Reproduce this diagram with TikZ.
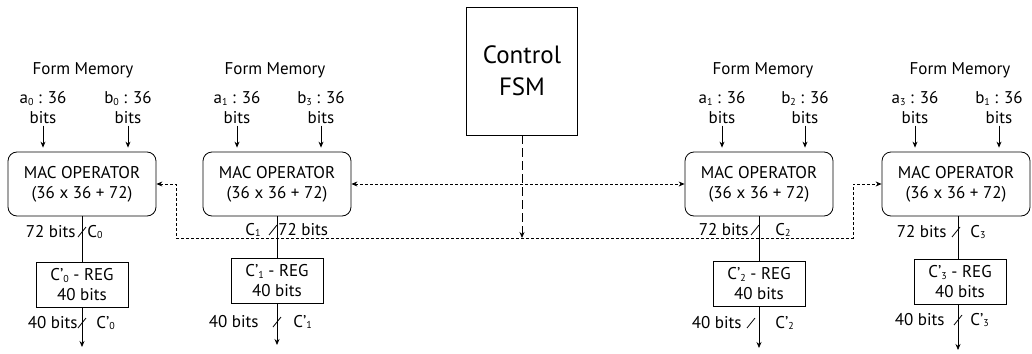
\documentclass[tikz,border=0pt]{standalone}
\usepackage{fontspec}
\setmainfont{PT Sans}
\usetikzlibrary{arrows.meta}
\newcommand{\sub}[1]{\raisebox{-0.2ex}{\fontsize{10}{10}\selectfont #1}}
\tikzset{
  mac/.style={draw, rounded corners=9pt, minimum width=148pt, minimum height=64pt, align=center, inner sep=0pt},
  reg/.style={draw, minimum width=92pt, minimum height=45pt, align=center, inner sep=0pt},
  txt/.style={inner sep=1pt, align=center},
  bus/.style={dash pattern=on 3pt off 2pt},
  ctrl/.style={dash pattern=on 9pt off 4pt},
  tip/.style={-{Stealth[length=6pt,width=5pt]}},
}
\begin{document}
\begin{tikzpicture}[x=1pt, y=-1pt, line width=0.8pt, font=\fontsize{17}{20}\selectfont]
\useasboundingbox (0,0) rectangle (1032,353);
% control
\node[draw, minimum width=111pt, minimum height=128pt, align=center, font=\fontsize{25}{32}\selectfont] (fsm) at (522,71) {Control\\FSM};
% block 0
\node[txt] (fm0) at (83,70) {Form Memory};
\node[txt] (inA0) at (43,108) {a\sub{0} : 36\\bits};
\node[txt] (inB0) at (128,108) {b\sub{0} : 36\\bits};
\node[mac] (mac0) at (82,184) {MAC OPERATOR\\(36 x 36 + 72)};
\node[reg] (reg0) at (82,285) {C'\sub{0} - REG\\40 bits};
\coordinate (out0) at (82,347);
\draw[tip, shorten >=4pt] (inA0) -- (inA0 |- mac0.north);
\draw[tip, shorten >=4pt] (inB0) -- (inB0 |- mac0.north);
\draw (mac0) -- (reg0);
\draw[tip] (reg0) -- (out0);
\draw (82,232) ++(-4,5) -- ++(8,-10);
\draw (82,323) ++(-4,5) -- ++(8,-10);
\node[txt, anchor=east] (w0) at (77,232) {72 bits};
\node[txt, anchor=west] (c0) at (86,232) {C\sub{0}};
\node[txt, anchor=east] (v0) at (79,323) {40 bits};
\node[txt, anchor=west] (d0) at (95,323) {C'\sub{0}};
% block 1
\node[txt] (fm1) at (275,70) {Form Memory};
\node[txt] (inA1) at (237,108) {a\sub{1} : 36\\bits};
\node[txt] (inB1) at (321,108) {b\sub{3} : 36\\bits};
\node[mac] (mac1) at (277,184) {MAC OPERATOR\\(36 x 36 + 72)};
\node[reg] (reg1) at (277,281) {C'\sub{1} - REG\\40 bits};
\coordinate (out1) at (277,345);
\draw[tip, shorten >=4pt] (inA1) -- (inA1 |- mac1.north);
\draw[tip, shorten >=4pt] (inB1) -- (inB1 |- mac1.north);
\draw (mac1) -- (reg1);
\draw[tip] (reg1) -- (out1);
\draw (273,230) ++(-4,5) -- ++(8,-10);
\draw (277,322) ++(-4,5) -- ++(8,-10);
\node[txt, anchor=east] (c1) at (262,230) {C\sub{1}};
\node[txt, anchor=west] (w1) at (277,230) {72 bits};
\node[txt, anchor=east] (v1) at (260,322) {40 bits};
\node[txt, anchor=west] (d1) at (292,322) {C'\sub{1}};
% block 2
\node[txt] (fm2) at (763,70) {Form Memory};
\node[txt] (inA2) at (722,108) {a\sub{1} : 36\\bits};
\node[txt] (inB2) at (805,108) {b\sub{2} : 36\\bits};
\node[mac] (mac2) at (759,184) {MAC OPERATOR\\(36 x 36 + 72)};
\node[reg] (reg2) at (759,284) {C'\sub{2} - REG\\40 bits};
\coordinate (out2) at (759,348);
\draw[tip, shorten >=4pt] (inA2) -- (inA2 |- mac2.north);
\draw[tip, shorten >=4pt] (inB2) -- (inB2 |- mac2.north);
\draw (mac2) -- (reg2);
\draw[tip] (reg2) -- (out2);
\draw (755,230) ++(-4,5) -- ++(8,-10);
\draw (751,323) ++(-4,5) -- ++(8,-10);
\node[txt, anchor=east] (w2) at (750,230) {72 bits};
\node[txt, anchor=west] (c2) at (774,230) {C\sub{2}};
\node[txt, anchor=east] (v2) at (743,323) {40 bits};
\node[txt, anchor=west] (d2) at (774,323) {C'\sub{2}};
% block 3
\node[txt] (fm3) at (960,70) {Form Memory};
\node[txt] (inA3) at (915,108) {a\sub{3} : 36\\bits};
\node[txt] (inB3) at (999,108) {b\sub{1} : 36\\bits};
\node[mac] (mac3) at (956,184) {MAC OPERATOR\\(36 x 36 + 72)};
\node[reg] (reg3) at (960,282) {C'\sub{3} - REG\\40 bits};
\coordinate (out3) at (958,350);
\draw[tip, shorten >=4pt] (inA3) -- (inA3 |- mac3.north);
\draw[tip, shorten >=4pt] (inB3) -- (inB3 |- mac3.north);
\draw (mac3.south -| out3) -- (reg3.north -| out3);
\draw[tip] (reg3.south -| out3) -- (out3);
\draw (956,232) ++(-4,5) -- ++(8,-10);
\draw (958,320) ++(-4,5) -- ++(8,-10);
\node[txt, anchor=east] (w3) at (948,232) {72 bits};
\node[txt, anchor=west] (c3) at (969,232) {C\sub{3}};
\node[txt, anchor=east] (v3) at (946,320) {40 bits};
\node[txt, anchor=west] (d3) at (969,320) {C'\sub{3}};
% control lines
\coordinate (busL) at (176,238);
\coordinate (busR) at (853,238);
\draw[bus, {Stealth[length=6pt,width=5pt]}-{Stealth[length=6pt,width=5pt]}] (mac1.east) -- (mac2.west);
\draw[bus, {Stealth[length=6pt,width=5pt]}-{Stealth[length=6pt,width=5pt]}] (mac0.east) -| (busL) -- (busR) |- (mac3.west);
\draw[ctrl, tip] (fsm.south) -- (fsm.south |- busL);
\end{tikzpicture}
\end{document}
